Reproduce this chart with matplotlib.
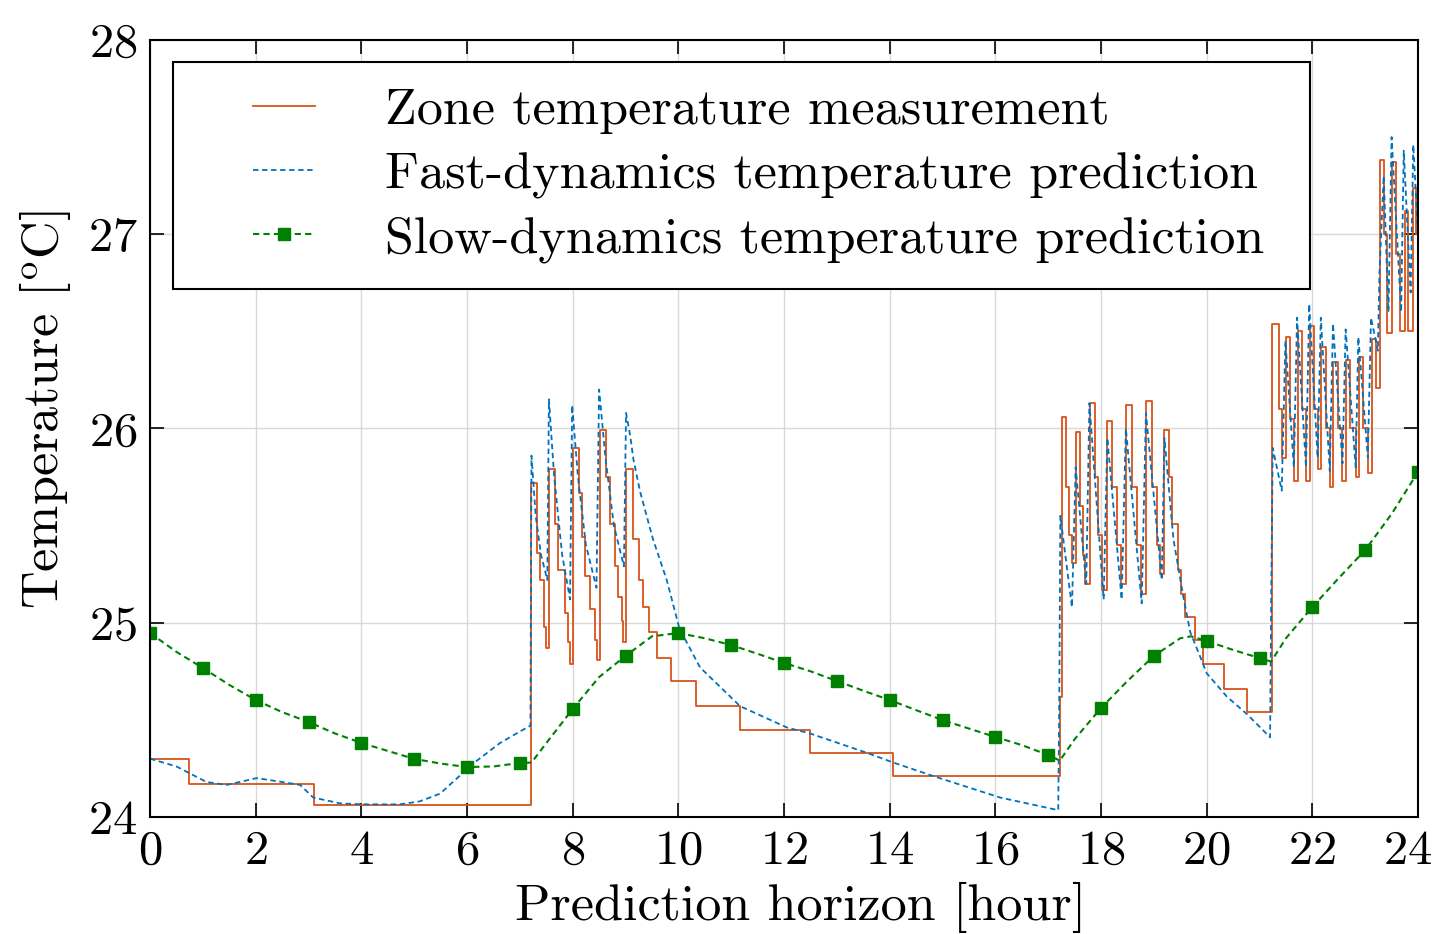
import numpy as np
import matplotlib
matplotlib.use("Agg")
import matplotlib.pyplot as plt
import matplotlib.transforms as mtransforms
from matplotlib.legend_handler import HandlerLine2D

plt.rcParams['font.family'] = 'serif'
plt.rcParams['font.serif'] = ['cmr10']
plt.rcParams['mathtext.fontset'] = 'cm'
plt.rcParams['axes.formatter.use_mathtext'] = True

# zone temperature measurement (step function, value holds until next time)
meas_t = [0.00, 0.74, 3.10,
          7.22, 7.32, 7.38, 7.45, 7.50,
          7.55, 7.66, 7.73, 7.86, 7.91, 7.94,
          8.00, 8.11, 8.17, 8.23, 8.33, 8.42, 8.46,
          8.51, 8.63, 8.71, 8.80, 8.86, 8.93, 8.96,
          9.00, 9.15, 9.25, 9.34, 9.45, 9.59, 9.86, 10.33, 11.16, 12.49, 14.07,
          17.22, 17.26, 17.34, 17.40, 17.46,
          17.53, 17.60, 17.66, 17.70,
          17.80, 17.88, 17.95, 18.02,
          18.12, 18.20, 18.30, 18.37,
          18.48, 18.58, 18.68, 18.75,
          18.86, 18.96, 19.05, 19.12,
          19.20, 19.28, 19.34, 19.45, 19.52, 19.59, 19.78, 19.93, 20.33, 20.76,
          21.23, 21.36, 21.42,
          21.50, 21.58, 21.65,
          21.72, 21.80, 21.88,
          21.95, 22.03, 22.10,
          22.17, 22.25, 22.33,
          22.40, 22.48, 22.57,
          22.64, 22.72, 22.82,
          22.88, 22.96, 23.05,
          23.12, 23.20,
          23.28, 23.36, 23.42,
          23.50, 23.58, 23.66,
          23.75, 23.81, 23.90, 23.97, 24.00]
meas_T = [24.30, 24.17, 24.06,
          25.72, 25.36, 25.22, 24.98, 24.87,
          25.79, 25.51, 25.27, 25.05, 24.90, 24.79,
          25.90, 25.67, 25.44, 25.24, 25.07, 24.91, 24.81,
          25.99, 25.75, 25.51, 25.29, 25.13, 25.01, 24.90,
          25.79, 25.43, 25.22, 25.08, 24.95, 24.82, 24.70, 24.57, 24.45, 24.33, 24.21,
          24.62, 26.06, 25.70, 25.45, 25.31,
          25.98, 25.60, 25.35, 25.20,
          26.13, 25.75, 25.45, 25.17,
          26.04, 25.70, 25.40, 25.20,
          26.12, 25.70, 25.40, 25.15,
          26.14, 25.70, 25.40, 25.25,
          25.99, 25.75, 25.51, 25.27, 25.15, 25.03, 24.91, 24.79, 24.66, 24.54,
          26.54, 26.10, 25.85,
          26.47, 26.05, 25.73,
          26.50, 26.10, 25.73,
          26.53, 26.10, 25.79,
          26.42, 26.00, 25.70,
          26.34, 26.00, 25.73,
          26.35, 26.00, 25.75,
          26.37, 26.00, 25.77,
          26.46, 26.21,
          27.38, 27.00, 26.49,
          27.37, 26.90, 26.50,
          27.12, 26.50, 27.24, 27.00, 27.00]

# fast-dynamics prediction
fast_t = [0.00, 0.50, 1.07, 1.45, 2.02, 2.50, 2.84, 3.09, 3.60, 4.00, 4.73, 5.10,
          5.49, 6.12, 6.62, 7.00, 7.20,
          7.22, 7.30, 7.40, 7.52,
          7.55, 7.65, 7.80, 7.95,
          7.99, 8.10, 8.25, 8.45,
          8.50, 8.62, 8.78, 8.97,
          9.01, 9.09, 9.15, 9.28, 9.52, 9.78, 10.02, 10.41, 11.17, 12.06, 12.49,
          13.57, 14.07, 14.83, 16.09, 17.19,
          17.21, 17.23, 17.30, 17.45,
          17.52, 17.72, 17.78, 18.05, 18.12, 18.39, 18.47, 18.77, 18.85, 19.15,
          19.20, 19.37, 19.56, 19.69, 19.87, 20.00, 20.38, 20.76, 21.20,
          21.22, 21.25, 21.42, 21.49, 21.65, 21.71, 21.88, 21.94, 22.10, 22.16,
          22.33, 22.39, 22.57, 22.63, 22.82, 22.87, 23.05, 23.11, 23.24,
          23.27, 23.35, 23.44, 23.50, 23.68, 23.73, 23.86, 23.91, 24.00]
fast_T = [24.30, 24.26, 24.18, 24.165, 24.20, 24.18, 24.165, 24.10, 24.07, 24.065, 24.065, 24.08,
          24.12, 24.276, 24.38, 24.44, 24.47,
          25.86, 25.55, 25.35, 25.22,
          26.15, 25.75, 25.35, 25.12,
          26.12, 25.75, 25.40, 25.18,
          26.20, 25.85, 25.50, 25.29,
          26.08, 25.96, 25.84, 25.67, 25.43, 25.22, 24.97, 24.77, 24.57, 24.46, 24.43,
          24.33, 24.28, 24.21, 24.10, 24.035,
          24.60, 25.55, 25.40, 25.08,
          25.80, 25.20, 26.13, 25.12, 25.95, 25.12, 26.00, 25.10, 26.08, 25.22,
          25.95, 25.43, 25.13, 24.95, 24.83, 24.74, 24.62, 24.53, 24.41,
          25.10, 25.90, 25.68, 26.45, 25.80, 26.57, 25.80, 26.64, 25.85, 26.57,
          25.78, 26.54, 25.82, 26.51, 25.80, 26.47, 25.85, 26.57, 26.40,
          26.80, 27.30, 26.60, 27.50, 26.60, 27.43, 26.70, 27.46, 27.00]

# slow-dynamics prediction
slow_t = [0, 0.5, 1, 1.5, 2, 2.5, 3, 3.5, 4, 4.5, 5, 5.5, 6, 6.5, 7, 7.22, 7.5,
          8, 8.5, 9, 9.5, 10, 10.5, 11, 11.5, 12, 12.5, 13, 13.5, 14, 14.5, 15,
          15.5, 16, 16.5, 17, 17.22, 17.5, 18, 18.5, 19, 19.5, 19.7, 20, 20.5, 21,
          21.22, 21.5, 22, 22.5, 23, 23.5, 24]
slow_T = [24.947, 24.85, 24.767, 24.68, 24.602, 24.54, 24.489, 24.43, 24.381, 24.34,
          24.299, 24.275, 24.257, 24.26, 24.278, 24.28, 24.38,
          24.556, 24.72, 24.829, 24.93, 24.947, 24.92, 24.885, 24.84, 24.793, 24.75,
          24.700, 24.65, 24.602, 24.55, 24.499, 24.455, 24.412, 24.37, 24.319, 24.29,
          24.40, 24.561, 24.70, 24.829, 24.92, 24.93, 24.906, 24.86, 24.818,
          24.80, 24.92, 25.081, 25.23, 25.374, 25.56, 25.776]

x_ticks = list(range(0, 25, 2))
y_ticks = [24, 25, 26, 27, 28]


class ShortLineHandler(HandlerLine2D):
    # draw the legend line only in the right part of the handle box
    def get_xdata(self, legend, xdescent, ydescent, width, height, fontsize):
        x0 = -xdescent + 0.465 * width
        x1 = -xdescent + width
        return [x0, x1], [0.5 * (x0 + x1)]


fig = plt.figure(figsize=(14.37, 9.34), dpi=100)
ax = fig.add_axes([0.1044, 0.1253, 0.8824, 0.8319])

ax.plot(meas_t, meas_T, drawstyle='steps-post', color='#D95319', lw=1.3,
        label='Zone temperature measurement')
ax.plot(fast_t, fast_T, '--', color='#0072BD', lw=1.3, dashes=(3, 2),
        label='Fast-dynamics temperature prediction')
hour_idx = [i for i, t in enumerate(slow_t) if float(t).is_integer()]
ax.plot(slow_t, slow_T, '--', color='#008000', lw=1.5, dashes=(3, 2),
        marker='s', markersize=8, markevery=hour_idx, markerfacecolor='#008000',
        markeredgecolor='#008000', label='Slow-dynamics temperature prediction')

ax.set_xlim(0, 24)
ax.set_ylim(24, 28)
ax.set_xticks(x_ticks)
ax.set_yticks(y_ticks)
ax.grid(True, color='#d9d9d9', lw=1.0)
ax.tick_params(direction='in', length=10, width=1.2, top=True, right=True,
               labelsize=35, pad=9)
for sp in ax.spines.values():
    sp.set_linewidth(1.5)

# keep the last hour label inside the figure
last = ax.get_xticklabels()[-1]
last.set_transform(last.get_transform() +
                   mtransforms.ScaledTranslation(-10 / 100, 0, fig.dpi_scale_trans))

ax.set_xlabel('Prediction horizon [hour]', fontsize=37.5)
ax.xaxis.set_label_coords(0.513, -0.083)
ax.set_ylabel(r'Temperature [$^{\rm o}$C]', fontsize=37.5)
ax.yaxis.set_label_coords(-0.061, 0.524)

leg = ax.legend(loc='upper left', bbox_to_anchor=(0.0181, 0.681, 0.8967, 0.2907),
                mode='expand', borderaxespad=0, fontsize=37.5, borderpad=0.5,
                handlelength=2.23, handletextpad=1.35, labelspacing=0.33,
                fancybox=False, framealpha=1, edgecolor='black',
                handler_map={matplotlib.lines.Line2D: ShortLineHandler()})
leg.get_frame().set_linewidth(1.5)

fig.savefig('out.png', dpi=100)
